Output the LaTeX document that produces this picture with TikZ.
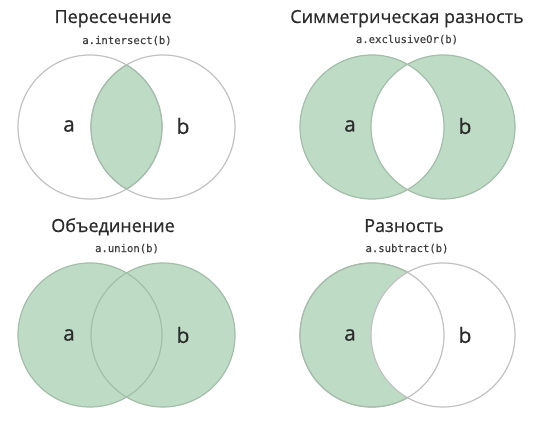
\documentclass[tikz,border=0pt]{standalone}
\usepackage{fontspec}
\setmainfont{Open Sans}
\newfontfamily\titlefont[FakeBold=0.6]{Open Sans}
\newfontfamily\codefont[FakeBold=0.3]{DejaVu Sans Mono}
\definecolor{setgreen}{HTML}{BEDCC5}
\definecolor{edgegreen}{HTML}{A3BEA9}
\definecolor{edgegrey}{HTML}{C2C2C2}
\definecolor{txt}{HTML}{2B2B2B}
\definecolor{codetxt}{HTML}{404040}
\begin{document}
\begin{tikzpicture}[x=1pt,y=-1pt,
  ttl/.style={anchor=base,font=\titlefont\fontsize{18}{20}\selectfont,text=txt,inner sep=0pt},
  code/.style={anchor=base,font=\codefont\fontsize{10.6}{12}\selectfont,text=codetxt,inner sep=0pt},
  lbl/.style={font=\titlefont\fontsize{21}{24}\selectfont,text=txt,inner sep=0pt},
  greyring/.style={draw=edgegrey,line width=1.2pt},
  greenring/.style={draw=edgegreen,line width=1.2pt}]
\useasboundingbox[fill=white] (0,0) rectangle (540,420);
\def\R{72}
% centres
\coordinate (a1) at (90,127);  \coordinate (b1) at (163,127);
\coordinate (a2) at (372,127); \coordinate (b2) at (443,127);
\coordinate (a3) at (90,335);  \coordinate (b3) at (163,335);
\coordinate (a4) at (372,335); \coordinate (b4) at (443,335);

% ---- Intersection ----
\begin{scope}
  \clip (a1) circle (\R);
  \fill[setgreen] (b1) circle (\R);
\end{scope}
\draw[greyring] (a1) circle (\R);
\draw[greyring] (b1) circle (\R);
\begin{scope}
  \clip (a1) circle (\R);
  \draw[greenring] (b1) circle (\R);
\end{scope}
\begin{scope}
  \clip (b1) circle (\R);
  \draw[greenring] (a1) circle (\R);
\end{scope}
\node[ttl] (t1) at (113,23) {Пересечение};
\node[code] (c1) at (127,44) {a.intersect(b)};
\node[lbl] (la1) at (69,126) {a};
\node[lbl] (lb1) at (183,126) {b};

% ---- Symmetric difference ----
\fill[setgreen,even odd rule] (a2) circle (\R) (b2) circle (\R);
\draw[greenring] (a2) circle (\R);
\draw[greenring] (b2) circle (\R);
\node[ttl] (t2) at (407,23) {Симметрическая разность};
\node[code] (c2) at (407,43) {a.exclusiveOr(b)};
\node[lbl] (la2) at (350,126) {a};
\node[lbl] (lb2) at (465,126) {b};

% ---- Union ----
\fill[setgreen] (a3) circle (\R) (b3) circle (\R);
\draw[greenring] (a3) circle (\R);
\draw[greenring] (b3) circle (\R);
\node[ttl] (t3) at (113,232) {Объединение};
\node[code] (c3) at (127,252) {a.union(b)};
\node[lbl] (la3) at (69,335) {a};
\node[lbl] (lb3) at (183,335) {b};

% ---- Difference ----
\begin{scope}
  \clip (a4) circle (\R);
  \fill[setgreen,even odd rule] (a4) circle (\R) (b4) circle (\R);
\end{scope}
\draw[greyring] (b4) circle (\R);
\draw[greyring] (a4) circle (\R);
\begin{scope}[even odd rule]
  \clip (0,0) rectangle (540,420) (b4) circle (\R);
  \draw[greenring] (a4) circle (\R);
\end{scope}
\node[ttl] (t4) at (404,232) {Разность};
\node[code] (c4) at (407,252) {a.subtract(b)};
\node[lbl] (la4) at (350,335) {a};
\node[lbl] (lb4) at (465,335) {b};
\end{tikzpicture}
\end{document}
